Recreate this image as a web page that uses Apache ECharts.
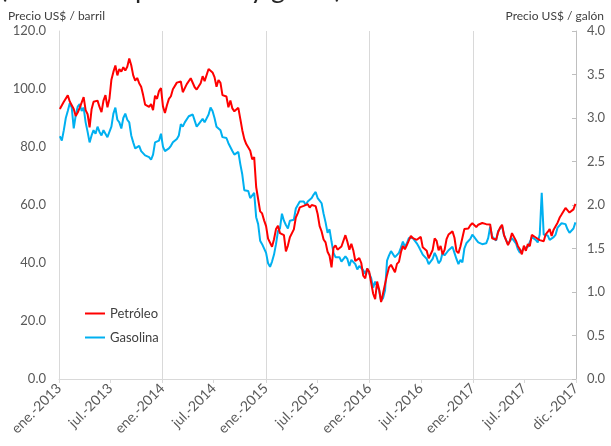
<!DOCTYPE html>
<html>
<head>
<meta charset="utf-8">
<script src="https://cdn.jsdelivr.net/npm/echarts@6/dist/echarts.min.js"></script>
<style>
  html, body { margin: 0; padding: 0; background: #ffffff; }
  #chart { width: 611px; height: 446px; }
</style>
</head>
<body>
<div id="chart"></div>
<script>
// Weekly closes (Fridays), starting on the first Friday of 2013
const firstFriday = [2013, 0, 4];

// WTI crude, US$ per barrel
const petroleo = [
  // 2013
  93.1, 93.6, 95.6, 95.9, 97.8, 95.7, 95.9, 93.1, 90.7, 91.9, 93.5, 93.7, 97.2,
  92.7, 91.3, 86.8, 93.0, 95.6, 96.0, 96.0, 93.8, 92.0, 96.0, 97.9, 93.7, 96.6,
  103.2, 105.9, 108.1, 104.7, 106.9, 106.0, 107.5, 106.4, 107.7, 110.5, 108.2, 104.7, 102.9,
  103.8, 102.0, 100.8, 97.9, 94.6, 94.6, 93.8, 94.8, 92.7, 97.7, 96.6, 99.3, 100.3,
  // 2014
  94.0, 91.7, 94.4, 96.6, 97.5, 99.9, 100.3, 102.2, 102.6, 102.6, 98.9, 99.5, 101.7,
  101.1, 103.7, 104.3, 100.6, 99.8, 100.0, 102.0, 104.4, 102.7, 102.7, 106.9, 107.3, 105.7,
  104.1, 100.8, 103.1, 102.1, 97.9, 97.7, 97.4, 93.7, 96.0, 93.3, 92.3, 92.4, 93.5,
  89.7, 85.8, 82.8, 81.0, 80.5, 78.7, 75.8, 76.5, 66.2, 65.8, 57.8, 57.1, 54.7,
  // 2015
  52.7, 48.4, 48.7, 45.6, 48.2, 51.7, 52.8, 50.3, 49.8, 49.6, 44.0, 46.0, 48.9,
  49.1, 51.6, 55.7, 57.2, 59.2, 59.4, 59.7, 59.7, 60.3, 59.1, 60.0, 59.6, 59.6,
  56.9, 52.7, 50.9, 48.1, 47.1, 43.9, 42.5, 38.5, 45.2, 46.1, 44.6, 44.7, 45.7,
  45.5, 49.6, 47.3, 44.6, 46.6, 44.3, 40.7, 40.4, 41.7, 40.0, 35.6, 34.7, 38.1,
  // 2016
  37.0, 33.2, 29.4, 27.5, 33.6, 30.9, 26.5, 29.6, 32.8, 35.9, 38.5, 39.4, 39.5,
  36.8, 39.7, 40.4, 43.7, 45.9, 44.7, 46.2, 47.8, 49.3, 48.6, 49.1, 48.0, 47.6,
  49.0, 45.4, 46.0, 44.2, 41.6, 41.8, 44.5, 48.5, 47.6, 44.4, 45.9, 43.0, 44.5, 48.2,
  49.8, 50.4, 50.9, 48.7, 44.1, 43.4, 45.7, 46.1, 51.7, 51.5, 51.9, 53.0, 53.7,
  // 2017
  54.0, 52.4, 53.2, 53.2, 53.8, 53.9, 53.4, 54.0, 53.3, 48.5, 48.8, 48.0, 50.6,
  52.2, 53.2, 49.6, 49.3, 46.2, 47.8, 50.3, 49.8, 47.7, 45.8, 44.7, 43.0, 46.0,
  44.2, 46.5, 45.8, 49.7, 49.6, 48.8, 48.5, 47.9, 47.3, 47.5, 49.9, 50.7, 51.7,
  49.3, 51.5, 51.5, 53.9, 55.6, 56.7, 56.6, 59.0, 58.4, 57.4, 57.3, 58.5, 60.4
];

// Gasoline, US$ per gallon
const gasolina = [
  // 2013
  2.79, 2.74, 2.86, 3.00, 3.08, 3.17, 3.12, 2.88, 3.03, 3.13, 3.16, 3.08, 3.12,
  2.95, 2.84, 2.72, 2.80, 2.86, 2.82, 2.90, 2.84, 2.80, 2.86, 2.87, 2.78, 2.76,
  2.90, 3.05, 3.12, 2.98, 2.95, 2.88, 3.00, 3.05, 2.98, 2.95, 2.80, 2.72, 2.65,
  2.66, 2.68, 2.62, 2.62, 2.57, 2.58, 2.55, 2.52, 2.58, 2.72, 2.70, 2.74, 2.82,
  // 2014
  2.67, 2.62, 2.63, 2.65, 2.68, 2.72, 2.73, 2.76, 2.80, 2.93, 2.90, 2.95, 2.93,
  3.02, 3.01, 3.04, 2.97, 2.90, 2.93, 2.95, 2.99, 2.95, 2.94, 3.04, 3.12, 3.08,
  3.00, 2.90, 2.92, 2.86, 2.78, 2.76, 2.77, 2.71, 2.73, 2.62, 2.58, 2.56, 2.61,
  2.47, 2.35, 2.17, 2.18, 2.16, 2.08, 2.07, 2.14, 1.86, 1.78, 1.59, 1.55, 1.56,
  // 2015
  1.45, 1.33, 1.29, 1.35, 1.43, 1.55, 1.70, 1.73, 1.90, 1.82, 1.77, 1.73, 1.82,
  1.80, 1.83, 1.96, 1.96, 2.04, 2.02, 2.04, 2.00, 2.04, 2.03, 2.08, 2.12, 2.15,
  2.08, 2.05, 2.02, 1.90, 1.80, 1.68, 1.72, 1.58, 1.45, 1.40, 1.38, 1.40, 1.35,
  1.35, 1.41, 1.38, 1.30, 1.37, 1.37, 1.32, 1.26, 1.30, 1.28, 1.25, 1.21, 1.27,
  // 2016
  1.27, 1.16, 1.05, 1.12, 1.10, 1.02, 0.90, 0.93, 1.02, 1.36, 1.42, 1.47, 1.46,
  1.40, 1.40, 1.45, 1.51, 1.58, 1.52, 1.56, 1.62, 1.63, 1.62, 1.63, 1.56, 1.52,
  1.52, 1.43, 1.42, 1.38, 1.32, 1.33, 1.38, 1.45, 1.40, 1.33, 1.36, 1.45, 1.42, 1.44,
  1.48, 1.47, 1.52, 1.45, 1.38, 1.32, 1.37, 1.34, 1.50, 1.56, 1.58, 1.61, 1.66,
  // 2017
  1.63, 1.60, 1.57, 1.55, 1.55, 1.54, 1.56, 1.62, 1.75, 1.64, 1.62, 1.59, 1.70,
  1.73, 1.76, 1.65, 1.60, 1.55, 1.57, 1.62, 1.60, 1.56, 1.49, 1.45, 1.44, 1.50,
  1.49, 1.52, 1.54, 1.63, 1.62, 1.60, 1.57, 1.66, 2.14, 1.66, 1.67, 1.65, 1.60,
  1.58, 1.63, 1.66, 1.74, 1.75, 1.79, 1.80, 1.78, 1.72, 1.68, 1.68, 1.73, 1.80
];

// Labelled ticks on the date axis
const tickDates = [
  [2013, 1, 1], [2013, 7, 1], [2014, 1, 1], [2014, 7, 1], [2015, 1, 1], [2015, 7, 1],
  [2016, 1, 1], [2016, 7, 1], [2017, 1, 1], [2017, 7, 1], [2017, 12, 31]
];
const tickLabels = [
  'ene.-2013', 'jul.-2013', 'ene.-2014', 'jul.-2014', 'ene.-2015', 'jul.-2015',
  'ene.-2016', 'jul.-2016', 'ene.-2017', 'jul.-2017', 'dic.-2017'
];
// Vertical guide lines at the start of each year
const yearStarts = [[2013, 1, 1], [2014, 1, 1], [2015, 1, 1], [2016, 1, 1], [2017, 1, 1]];

const seriesNames = ['Petróleo', 'Gasolina'];
const leftAxisName = 'Precio US$ / barril';
const rightAxisName = 'Precio US$ / galón';
const headline = '(en dólares por barril y galón)';

const FONT = 'Lato, "Open Sans", sans-serif';
const toTime = (d) => new Date(d[0], d[1] - 1, d[2]).getTime();
const tickTimes = tickDates.map(toTime);
const yearTimes = yearStarts.map(toTime);
const xMin = toTime([2013, 1, 1]);
const xMax = toTime([2017, 12, 31]);

const weekTime = (i) => new Date(firstFriday[0], firstFriday[1], firstFriday[2] + 7 * i).getTime();
const oilData = petroleo.map((v, i) => [weekTime(i), v]);
const gasData = gasolina.map((v, i) => [weekTime(i), v]);

const chart = echarts.init(document.getElementById('chart'));
chart.setOption({
  animation: false,
  backgroundColor: '#ffffff',
  grid: { left: 59, right: 35, top: 31, bottom: 67 },
  legend: {
    data: seriesNames,
    orient: 'vertical',
    left: 80,
    top: 302,
    icon: 'rect',
    itemWidth: 20,
    itemHeight: 2,
    itemGap: 11,
    textStyle: { fontFamily: FONT, fontSize: 13, color: '#404040' }
  },
  xAxis: [{
    type: 'value',
    min: xMin,
    max: xMax,
    axisLine: { show: true, lineStyle: { color: '#d9d9d9', width: 1 } },
    axisTick: { show: true, customValues: tickTimes, length: 4, lineStyle: { color: '#d9d9d9' } },
    axisLabel: {
      customValues: tickTimes,
      rotate: 45,
      margin: 7,
      color: '#595959',
      fontFamily: FONT,
      fontSize: 14,
      formatter: (val) => {
        const i = tickTimes.indexOf(val);
        return i >= 0 ? tickLabels[i] : '';
      }
    },
    splitLine: { show: false }
  }, {
    type: 'value',
    min: xMin,
    max: xMax,
    position: 'bottom',
    axisLine: { show: false },
    axisTick: { show: false, customValues: yearTimes },
    axisLabel: { show: false, customValues: yearTimes },
    splitLine: { show: true, lineStyle: { color: '#d9d9d9', width: 1 } }
  }],
  yAxis: [{
    type: 'value',
    position: 'left',
    min: 0,
    max: 120,
    interval: 20,
    axisLine: { show: true, lineStyle: { color: '#d9d9d9' } },
    axisTick: { show: false },
    splitLine: { show: false },
    axisLabel: {
      margin: 13,
      color: '#595959',
      fontFamily: FONT,
      fontSize: 13,
      formatter: (v) => v.toFixed(1)
    }
  }, {
    type: 'value',
    position: 'right',
    min: 0,
    max: 4,
    interval: 0.5,
    axisLine: { show: true, lineStyle: { color: '#bfbfbf' } },
    axisTick: { show: true, inside: true, length: 4, lineStyle: { color: '#bfbfbf' } },
    splitLine: { show: false },
    axisLabel: {
      margin: 11,
      color: '#595959',
      fontFamily: FONT,
      fontSize: 13,
      formatter: (v) => v.toFixed(1)
    }
  }],
  graphic: [{
    // headline sits mostly above the top edge; only its descenders show
    type: 'text',
    x: 0,
    y: 3,
    style: { text: headline, font: '27px ' + FONT, fill: '#262626', verticalAlign: 'bottom' }
  }, {
    type: 'text',
    left: 8,
    top: 10,
    style: { text: leftAxisName, font: '12px ' + FONT, fill: '#404040' }
  }, {
    type: 'text',
    right: 7,
    top: 10,
    style: { text: rightAxisName, font: '12px ' + FONT, fill: '#404040' }
  }],
  series: [{
    name: seriesNames[0],
    type: 'line',
    xAxisIndex: 0,
    yAxisIndex: 0,
    data: oilData,
    showSymbol: false,
    color: '#ff0000',
    lineStyle: { width: 2, color: '#ff0000' },
    z: 3
  }, {
    name: seriesNames[1],
    type: 'line',
    xAxisIndex: 0,
    yAxisIndex: 1,
    data: gasData,
    showSymbol: false,
    color: '#00b0f0',
    lineStyle: { width: 2, color: '#00b0f0' },
    z: 2
  }]
});
</script>
</body>
</html>
